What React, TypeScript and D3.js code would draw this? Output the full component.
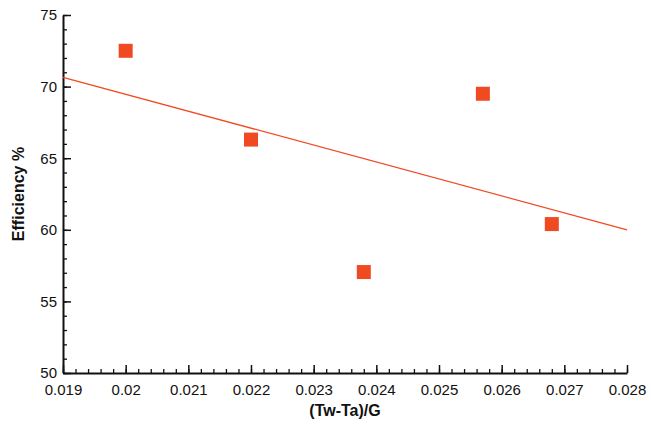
import React, { useEffect, useRef } from 'react';
import * as d3 from 'd3';

// Measured points
const xValues = [0.02, 0.022, 0.0238, 0.0257, 0.0268];
const yValues = [72.5, 66.3, 57.05, 69.5, 60.4];

// Linear trend line end points
const trendX = [0.019, 0.028];
const trendY = [70.65, 60.0];

const xTicks = [0.019, 0.02, 0.021, 0.022, 0.023, 0.024, 0.025, 0.026, 0.027, 0.028];
const yTicks = [50, 55, 60, 65, 70, 75];

const App = () => {
  const svgRef = useRef<SVGSVGElement>(null);

  useEffect(() => {
    if (!svgRef.current) return;
    const svg = d3.select(svgRef.current);
    svg.selectAll('*').remove();

    const margin = { top: 15, right: 24, bottom: 51, left: 63 };
    const width = 651;
    const height = 424;
    const innerW = width - margin.left - margin.right;
    const innerH = height - margin.top - margin.bottom;
    const font = 'Liberation Sans, Arial, Helvetica, sans-serif';
    const red = '#f04a23';

    const x = d3.scaleLinear().domain([0.019, 0.028]).range([0, innerW]);
    const y = d3.scaleLinear().domain([50, 75]).range([innerH, 0]);

    const g = svg.append('g')
      .attr('transform', `translate(${margin.left}, ${margin.top})`);

    // minor ticks
    const xMinor = d3.range(0, 46).map(i => 0.019 + i * 0.0002);
    const yMinor = d3.range(0, 26).map(i => 50 + i);

    g.append('g')
      .attr('transform', `translate(0, ${innerH})`)
      .call(d3.axisBottom(x).tickValues(xMinor).tickSize(-4).tickFormat(() => ''))
      .call(a => a.select('.domain').remove())
      .selectAll('line').attr('stroke', '#111').attr('stroke-width', 1.3);

    g.append('g')
      .call(d3.axisLeft(y).tickValues(yMinor).tickSize(-4).tickFormat(() => ''))
      .call(a => a.select('.domain').remove())
      .selectAll('line').attr('stroke', '#111').attr('stroke-width', 1.3);

    // major axes
    const xAxis = g.append('g')
      .attr('transform', `translate(0, ${innerH})`)
      .call(d3.axisBottom(x).tickValues(xTicks).tickSize(-8).tickSizeOuter(0).tickPadding(4)
        .tickFormat(d => String(+d)));
    xAxis.select('.domain').attr('stroke', '#111').attr('stroke-width', 2);
    xAxis.selectAll('line').attr('stroke', '#111').attr('stroke-width', 1.5);
    xAxis.selectAll('text')
      .attr('y', 8)
      .attr('dy', '0.9em')
      .style('font-family', font)
      .style('font-size', '15px')
      .attr('fill', '#111');

    const yAxis = g.append('g')
      .call(d3.axisLeft(y).tickValues(yTicks).tickSize(-8).tickSizeOuter(0).tickPadding(6));
    yAxis.select('.domain').attr('stroke', '#111').attr('stroke-width', 2);
    yAxis.selectAll('line').attr('stroke', '#111').attr('stroke-width', 1.5);
    yAxis.selectAll('text')
      .attr('x', -6)
      .style('font-family', font)
      .style('font-size', '15px')
      .attr('fill', '#111');

    // trend line
    const line = d3.line<number>()
      .x((_, i) => x(trendX[i]))
      .y(d => y(d));
    g.append('path')
      .datum(trendY)
      .attr('d', line)
      .attr('fill', 'none')
      .attr('stroke', red)
      .attr('stroke-width', 1.3);

    // points
    const size = 14;
    g.selectAll('.pt')
      .data(xValues)
      .enter().append('rect')
      .attr('class', 'pt')
      .attr('x', d => x(d) - size / 2)
      .attr('y', (_, i) => y(yValues[i]) - size / 2)
      .attr('width', size)
      .attr('height', size)
      .attr('fill', red);

    // axis titles
    svg.append('text')
      .attr('x', margin.left + innerW / 2)
      .attr('y', 416)
      .attr('text-anchor', 'middle')
      .style('font-family', font)
      .style('font-size', '16px')
      .style('font-weight', 'bold')
      .attr('fill', '#111')
      .text('(Tw-Ta)/G');

    svg.append('text')
      .attr('transform', `translate(24, ${margin.top + innerH / 2}) rotate(-90)`)
      .attr('text-anchor', 'middle')
      .style('font-family', font)
      .style('font-size', '16px')
      .style('font-weight', 'bold')
      .attr('fill', '#111')
      .text('Efficiency %');
  }, []);

  return (
    <svg ref={svgRef} width={651} height={424}
      style={{ position: 'absolute', left: 0, top: 0, background: '#fff' }} />
  );
};

export default App;
